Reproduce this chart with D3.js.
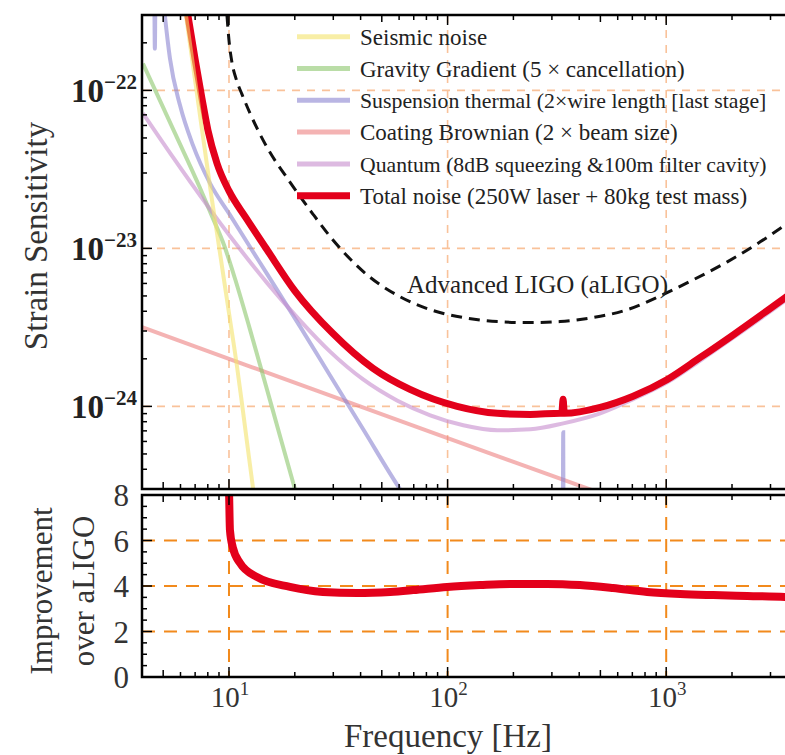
<!DOCTYPE html>
<html>
<head>
<meta charset="utf-8">
<script src="https://cdn.jsdelivr.net/npm/d3@7"></script>
<style>
  body { margin: 0; background: #fff; }
  svg { display: block; font-family: "Liberation Serif", "DejaVu Serif", serif; }
</style>
</head>
<body>
<svg id="chart" width="785" height="755"></svg>
<script>
// [frequency Hz, strain 1/sqrt(Hz)]
var seismic = [[6.36,2.97e-22],[7.37,6.95e-23],[8.36,2.02e-23],[8.91,1.13e-23],[9.90,4.27e-24],[10.88,1.79e-24],
  [11.59,9.3e-25],[12.88,3.04e-25],[13.57,1.8e-25]];
var gravity = [[4.04,1.48e-22],[5.66,5.36e-23],[7.37,2.41e-23],[8.36,1.60e-23],[9.49,1.05e-23],[10.76,6.15e-24],
  [12.48,3.06e-24],[15.73,9.86e-25],[20.04,2.99e-25],[22.3,1.8e-25]];
var suspension = [[4.0,7e-22],[4.54,6e-22],[4.58,1.84e-22],[4.62,6e-22],[4.9,5e-22],[5.09,2.97e-22],[5.37,1.59e-22],
  [5.97,8.04e-23],[6.84,4.50e-23],[8.18,2.59e-23],[10.1,1.63e-23],[12.48,1.02e-23],[14.93,6.9e-24],[21.15,3.2e-24],
  [29.0,1.57e-24],[41.1,7.16e-25],[60.6,2.99e-25],[67.3,2.41e-25],[90,1e-25],[200,3e-26],[335,1.5e-26],
  [338,6.85e-25],[341,1.5e-26],[1000,5e-27],[5000,1e-27]];
var coating = [[4.0,3.17e-24],[10,2.0e-24],[100,6.3e-25],[1000,2.0e-25],[5000,8.9e-26]];
var quantum = [[4.04,7.16e-23],[5.54,3.78e-23],[7.93,1.88e-23],[10.43,1.13e-23],[14.93,6.05e-24],[21.15,3.49e-24],
  [29.0,2.22e-24],[41.1,1.48e-24],[58.7,1.09e-24],[83.3,8.78e-25],[118,7.59e-25],[169,7.06e-25],[239,7.16e-25],
  [338,7.81e-25],[499,9.04e-25],[706,1.11e-24],[1012,1.42e-24],[1432,1.95e-24],[2028,2.72e-24],[2900,3.86e-24],
  [3506,4.67e-24],[4560,6.05e-24]];
var totalNoise = [[6.49,2.97e-22],[6.99,1.59e-22],[7.52,8.91e-23],[8.01,5.6e-23],[8.81,3.46e-23],[10.0,2.31e-23],
  [11.96,1.56e-23],[14.93,9.8e-24],[20.0,5.39e-24],[29.9,2.89e-24],[45.6,1.74e-24],[67.3,1.28e-24],[110.5,1.0e-24],
  [169,9.04e-25],[239,8.9e-25],[327,9.04e-25],[333,9.04e-25],[337.5,1.11e-24],[342,9.04e-25],[499,9.86e-25],
  [706,1.16e-24],[1012,1.48e-24],[1432,2.04e-24],[2028,2.84e-24],[2900,4.04e-24],[3506,4.88e-24],[4560,6.33e-24]];
var aligo = [[9.79,2.97e-22],[10.0,2.07e-22],[10.32,1.50e-22],[10.76,1.19e-22],[11.47,9.44e-23],[12.48,7.16e-23],
  [14.93,4.36e-23],[19.0,2.63e-23],[24.2,1.65e-23],[29.9,1.13e-23],[42.8,6.81e-24],[60.6,4.94e-24],[85.9,4.04e-24],
  [118,3.65e-24],[169,3.44e-24],[239,3.39e-24],[327,3.44e-24],[463,3.65e-24],[663,4.09e-24],[940,5.01e-24],
  [1330,6.33e-24],[1903,8.22e-24],[2692,1.10e-23],[3506,1.41e-23],[4560,1.83e-23]];
// [frequency Hz, aLIGO / total]
var improvement = [[9.9,8.8],[10.0,8.2],[10.1,6.46],[10.4,5.71],[11.23,5.01],[13.4,4.40],[19.0,3.96],[26.9,3.74],
  [38.5,3.69],[54.6,3.74],[69.5,3.82],[99.5,3.96],[141,4.04],[200,4.09],[285,4.09],[403,4.04],[571,3.91],
  [818,3.74],[1159,3.65],[1641,3.60],[2350,3.56],[3506,3.52],[4560,3.47]];

var legendLabels = ['Seismic noise', 'Gravity Gradient (5 \u00d7 cancellation)',
  'Suspension thermal (2\u00d7wire length [last stage]', 'Coating Brownian (2 \u00d7 beam size)',
  'Quantum (8dB squeezing &100m filter cavity)', 'Total noise (250W laser + 80kg test mass)'];
var xTickExps = [1, 2, 3];
var yTickExps = [-22, -23, -24];
var impTicks = [0, 2, 4, 6, 8];

var svg = d3.select('#chart');
var x = d3.scaleLog().domain([4, 5000]).range([142, 819]);
var y = d3.scaleLog().domain([3e-25, 3e-22]).range([489, 15]);
var y2 = d3.scaleLinear().domain([0, 8]).range([677, 495]);

var topP = {t: 15, b: 489}, botP = {t: 495, b: 677};

var defs = svg.append('defs');
defs.append('clipPath').attr('id', 'clipTop').append('rect')
  .attr('x', 142).attr('y', topP.t).attr('width', 677).attr('height', topP.b - topP.t);
defs.append('clipPath').attr('id', 'clipBot').append('rect')
  .attr('x', 142).attr('y', botP.t).attr('width', 677).attr('height', botP.b - botP.t);

// grids
var gTop = svg.append('g').attr('clip-path', 'url(#clipTop)');
gTop.selectAll('line.vx').data(xTickExps).enter().append('line')
  .attr('x1', function(d){ return x(Math.pow(10, d)); }).attr('x2', function(d){ return x(Math.pow(10, d)); })
  .attr('y1', topP.t).attr('y2', topP.b)
  .attr('stroke', '#f9c29a').attr('stroke-width', 1.6).attr('stroke-dasharray', '8,7');
gTop.selectAll('line.hy').data(yTickExps).enter().append('line')
  .attr('y1', function(d){ return y(Math.pow(10, d)); }).attr('y2', function(d){ return y(Math.pow(10, d)); })
  .attr('x1', 142).attr('x2', 819)
  .attr('stroke', '#f9c29a').attr('stroke-width', 1.6).attr('stroke-dasharray', '8,7');

var gBot = svg.append('g').attr('clip-path', 'url(#clipBot)');
gBot.selectAll('line.vx').data(xTickExps).enter().append('line')
  .attr('x1', function(d){ return x(Math.pow(10, d)); }).attr('x2', function(d){ return x(Math.pow(10, d)); })
  .attr('y1', botP.t).attr('y2', botP.b)
  .attr('stroke', '#f28a1c').attr('stroke-width', 2).attr('stroke-dasharray', '13,9');
gBot.selectAll('line.hy').data([2, 4, 6]).enter().append('line')
  .attr('y1', y2).attr('y2', y2)
  .attr('x1', 142).attr('x2', 819)
  .attr('stroke', '#f28a1c').attr('stroke-width', 2).attr('stroke-dasharray', '13,9');

// curves
var line = d3.line().x(function(d){ return x(d[0]); }).y(function(d){ return y(d[1]); }).curve(d3.curveMonotoneX);
var line2 = d3.line().x(function(d){ return x(d[0]); }).y(function(d){ return y2(d[1]); }).curve(d3.curveMonotoneX);

var curves = [
  {data: coating, color: '#ec8080', w: 4, op: 0.6},
  {data: gravity, color: '#8cc66d', w: 4, op: 0.6},
  {data: suspension, color: '#8a84d0', w: 4, op: 0.6},
  {data: quantum, color: '#c68ccd', w: 4, op: 0.6},
  {data: totalNoise, color: '#e3001b', w: 7, op: 1},
  {data: seismic, color: '#f4e36b', w: 4, op: 0.6}
];
curves.forEach(function(c){
  gTop.append('path').attr('d', line(c.data)).attr('fill', 'none')
    .attr('stroke', c.color).attr('stroke-width', c.w).attr('stroke-opacity', c.op);
});
gTop.append('path').attr('d', line(aligo)).attr('fill', 'none')
  .attr('stroke', '#111').attr('stroke-width', 3).attr('stroke-dasharray', '11,7');

gBot.append('path').attr('d', line2(improvement)).attr('fill', 'none')
  .attr('stroke', '#e3001b').attr('stroke-width', 8);

// frames
[topP, botP].forEach(function(p){
  svg.append('rect').attr('x', 142).attr('y', p.t).attr('width', 677).attr('height', p.b - p.t)
    .attr('fill', 'none').attr('stroke', '#000').attr('stroke-width', 2.5);
});

// x ticks (both panels, top and bottom edges)
var xMinor = [];
for (var e = 0; e <= 3; e++) for (var m = 1; m <= 9; m++) {
  var f = m * Math.pow(10, e);
  if (f >= 4 && f <= 5000) xMinor.push(f);
}
function tickLen(f) {
  var m = Math.round(f / Math.pow(10, Math.floor(Math.log10(f) + 1e-9)));
  return m === 1 ? 10 : (m === 5 ? 7 : 5);
}
[topP, botP].forEach(function(p){
  var g = svg.append('g');
  g.selectAll('line.t').data(xMinor).enter().append('line')
    .attr('x1', x).attr('x2', x).attr('y1', p.t).attr('y2', function(d){ return p.t + tickLen(d); })
    .attr('stroke', '#000').attr('stroke-width', 1.5);
  g.selectAll('line.b').data(xMinor).enter().append('line')
    .attr('x1', x).attr('x2', x).attr('y1', p.b).attr('y2', function(d){ return p.b - tickLen(d); })
    .attr('stroke', '#000').attr('stroke-width', 1.5);
});

// y ticks top panel
var yMinor = [];
for (var e2 = -25; e2 <= -22; e2++) for (var m2 = 1; m2 <= 9; m2++) {
  var v = m2 * Math.pow(10, e2);
  if (v >= 3e-25 && v <= 3e-22) yMinor.push({v: v, major: m2 === 1});
}
svg.append('g').selectAll('line').data(yMinor).enter().append('line')
  .attr('x1', 142).attr('x2', function(d){ return 142 + (d.major ? 10 : 5); })
  .attr('y1', function(d){ return y(d.v); }).attr('y2', function(d){ return y(d.v); })
  .attr('stroke', '#000').attr('stroke-width', 1.5);

// y ticks bottom panel
svg.append('g').selectAll('line').data(d3.range(0, 8.01, 0.5)).enter().append('line')
  .attr('x1', 142).attr('x2', function(d){ return 142 + (d % 2 === 0 ? 10 : 5); })
  .attr('y1', y2).attr('y2', y2)
  .attr('stroke', '#000').attr('stroke-width', 1.5);

// tick labels
var ylab = svg.append('g').attr('fill', '#222').attr('font-weight', 'bold').attr('text-anchor', 'end');
yTickExps.forEach(function(d){
  var t = ylab.append('text').attr('x', 137).attr('y', y(Math.pow(10, d)) + 12).attr('font-size', 33);
  t.append('tspan').text('10');
  t.append('tspan').attr('dy', -13).attr('font-size', 21).text('\u2212' + Math.abs(d));
});
svg.append('g').attr('fill', '#333').attr('text-anchor', 'end').selectAll('text').data(impTicks).enter()
  .append('text').attr('x', 129).attr('y', function(d){ return y2(d) + 11; })
  .attr('font-size', 31).text(function(d){ return d; });
xTickExps.forEach(function(d){
  var t = svg.append('text').attr('x', x(Math.pow(10, d)) + 1).attr('y', 707)
    .attr('text-anchor', 'middle').attr('font-size', 29).attr('fill', '#333');
  t.append('tspan').text('10');
  t.append('tspan').attr('dy', -12).attr('font-size', 19).text(d);
});

// axis titles
svg.append('text').attr('transform', 'translate(47,236) rotate(-90)').attr('text-anchor', 'middle')
  .attr('font-size', 33).attr('fill', '#333').text('Strain Sensitivity');
svg.append('text').attr('transform', 'translate(52,591) rotate(-90)').attr('text-anchor', 'middle')
  .attr('font-size', 31).attr('fill', '#333').text('Improvement');
svg.append('text').attr('transform', 'translate(94,591) rotate(-90)').attr('text-anchor', 'middle')
  .attr('font-size', 31).attr('fill', '#333').text('over aLIGO');
svg.append('text').attr('x', 448).attr('y', 747).attr('text-anchor', 'middle')
  .attr('font-size', 33).attr('fill', '#333').text('Frequency [Hz]');

// aLIGO label
svg.append('text').attr('x', 407).attr('y', 293).attr('font-size', 25).attr('fill', '#222')
  .text('Advanced LIGO (aLIGO)');

// legend
var legColors = ['#f4e36b', '#8cc66d', '#8a84d0', '#ec8080', '#c68ccd', '#e3001b'];
var leg = svg.append('g');
legendLabels.forEach(function(lbl, i){
  var yy = 36.7 + i * 31.8;
  leg.append('line').attr('x1', 297).attr('x2', 350).attr('y1', yy).attr('y2', yy)
    .attr('stroke', legColors[i]).attr('stroke-width', i === 5 ? 7 : 5)
    .attr('stroke-opacity', i === 5 ? 1 : 0.6);
  var t = leg.append('text').attr('x', 360).attr('y', yy + 8).attr('font-size', 23).attr('fill', '#222').text(lbl);
  // the long rows run right up to the figure edge: shrink them to fit
  var len = t.node().getComputedTextLength();
  if (len > 408) t.attr('font-size', Math.floor(23 * 408 / len * 10) / 10);
});
</script>
</body>
</html>
